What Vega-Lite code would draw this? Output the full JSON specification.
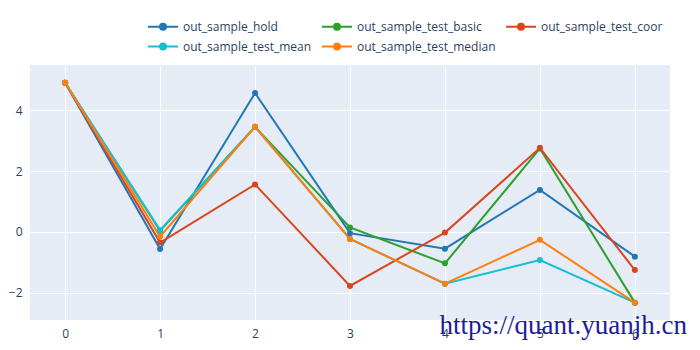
{
  "$schema": "https://vega.github.io/schema/vega-lite/v6.json",
  "autosize": {"type": "none"},
  "width": 640,
  "height": 255,
  "padding": {"left": 30, "top": 65, "right": 30, "bottom": 30},
  "background": "white",
  "title": {
    "text": "https://quant.yuanjh.cn",
    "orient": "bottom",
    "anchor": "end",
    "font": "Liberation Serif",
    "fontSize": 27,
    "fontWeight": "normal",
    "color": "#1c1c9e",
    "baseline": "alphabetic",
    "offset": -5,
    "dx": 17
  },
  "config": {
    "view": {"fill": "#e5ecf6", "stroke": null},
    "font": "Open Sans",
    "axis": {
      "labelFont": "Open Sans",
      "labelFontSize": 12,
      "labelColor": "#2a3f5f",
      "gridColor": "white",
      "gridWidth": 1,
      "domain": false,
      "ticks": false,
      "title": null
    }
  },
  "data": {
    "values": [
      {"x": 0, "v": 4.9, "s": "out_sample_hold"},
      {"x": 1, "v": -0.56, "s": "out_sample_hold"},
      {"x": 2, "v": 4.56, "s": "out_sample_hold"},
      {"x": 3, "v": -0.04, "s": "out_sample_hold"},
      {"x": 4, "v": -0.55, "s": "out_sample_hold"},
      {"x": 5, "v": 1.38, "s": "out_sample_hold"},
      {"x": 6, "v": -0.81, "s": "out_sample_hold"},
      {"x": 0, "v": 4.9, "s": "out_sample_test_basic"},
      {"x": 1, "v": 0.04, "s": "out_sample_test_basic"},
      {"x": 2, "v": 3.45, "s": "out_sample_test_basic"},
      {"x": 3, "v": 0.15, "s": "out_sample_test_basic"},
      {"x": 4, "v": -1.03, "s": "out_sample_test_basic"},
      {"x": 5, "v": 2.74, "s": "out_sample_test_basic"},
      {"x": 6, "v": -2.32, "s": "out_sample_test_basic"},
      {"x": 0, "v": 4.9, "s": "out_sample_test_coor"},
      {"x": 1, "v": -0.35, "s": "out_sample_test_coor"},
      {"x": 2, "v": 1.56, "s": "out_sample_test_coor"},
      {"x": 3, "v": -1.77, "s": "out_sample_test_coor"},
      {"x": 4, "v": -0.02, "s": "out_sample_test_coor"},
      {"x": 5, "v": 2.76, "s": "out_sample_test_coor"},
      {"x": 6, "v": -1.25, "s": "out_sample_test_coor"},
      {"x": 0, "v": 4.9, "s": "out_sample_test_mean"},
      {"x": 1, "v": 0.06, "s": "out_sample_test_mean"},
      {"x": 2, "v": 3.45, "s": "out_sample_test_mean"},
      {"x": 3, "v": -0.23, "s": "out_sample_test_mean"},
      {"x": 4, "v": -1.7, "s": "out_sample_test_mean"},
      {"x": 5, "v": -0.92, "s": "out_sample_test_mean"},
      {"x": 6, "v": -2.32, "s": "out_sample_test_mean"},
      {"x": 0, "v": 4.9, "s": "out_sample_test_median"},
      {"x": 1, "v": -0.15, "s": "out_sample_test_median"},
      {"x": 2, "v": 3.45, "s": "out_sample_test_median"},
      {"x": 3, "v": -0.23, "s": "out_sample_test_median"},
      {"x": 4, "v": -1.7, "s": "out_sample_test_median"},
      {"x": 5, "v": -0.26, "s": "out_sample_test_median"},
      {"x": 6, "v": -2.32, "s": "out_sample_test_median"}
    ]
  },
  "mark": {"type": "line", "strokeWidth": 2, "point": {"filled": true, "size": 36}},
  "encoding": {
    "x": {
      "field": "x",
      "type": "quantitative",
      "scale": {"domain": [-0.37, 6.37], "nice": false, "zero": false},
      "axis": {"values": [0, 1, 2, 3, 4, 5, 6], "labelPadding": 8, "format": "d"}
    },
    "y": {
      "field": "v",
      "type": "quantitative",
      "scale": {"domain": [-2.89, 5.48], "nice": false, "zero": false},
      "axis": {"values": [-2, 0, 2, 4], "labelPadding": 8, "format": "d"}
    },
    "color": {
      "field": "s",
      "type": "nominal",
      "sort": ["out_sample_hold", "out_sample_test_basic", "out_sample_test_coor", "out_sample_test_mean", "out_sample_test_median"],
      "scale": {
        "domain": ["out_sample_hold", "out_sample_test_basic", "out_sample_test_coor", "out_sample_test_mean", "out_sample_test_median"],
        "range": ["#1f77b4", "#2ca02c", "#d9461e", "#17becf", "#ff7f0e"]
      },
      "legend": {
        "title": null,
        "orient": "none",
        "legendX": 117,
        "legendY": -47,
        "direction": "horizontal",
        "columns": 3,
        "columnPadding": 6,
        "rowPadding": 4,
        "symbolType": "M-1,0H3M1.4,0A0.4,0.4 0 1,1 0.6,0A0.4,0.4 0 1,1 1.4,0Z",
        "symbolSize": 225,
        "symbolStrokeWidth": 2,
        "labelOffset": 19,
        "labelFont": "Open Sans",
        "labelFontSize": 12,
        "labelColor": "#2a3f5f",
        "labelLimit": 300
      }
    },
    "order": {"field": "x"}
  }
}
